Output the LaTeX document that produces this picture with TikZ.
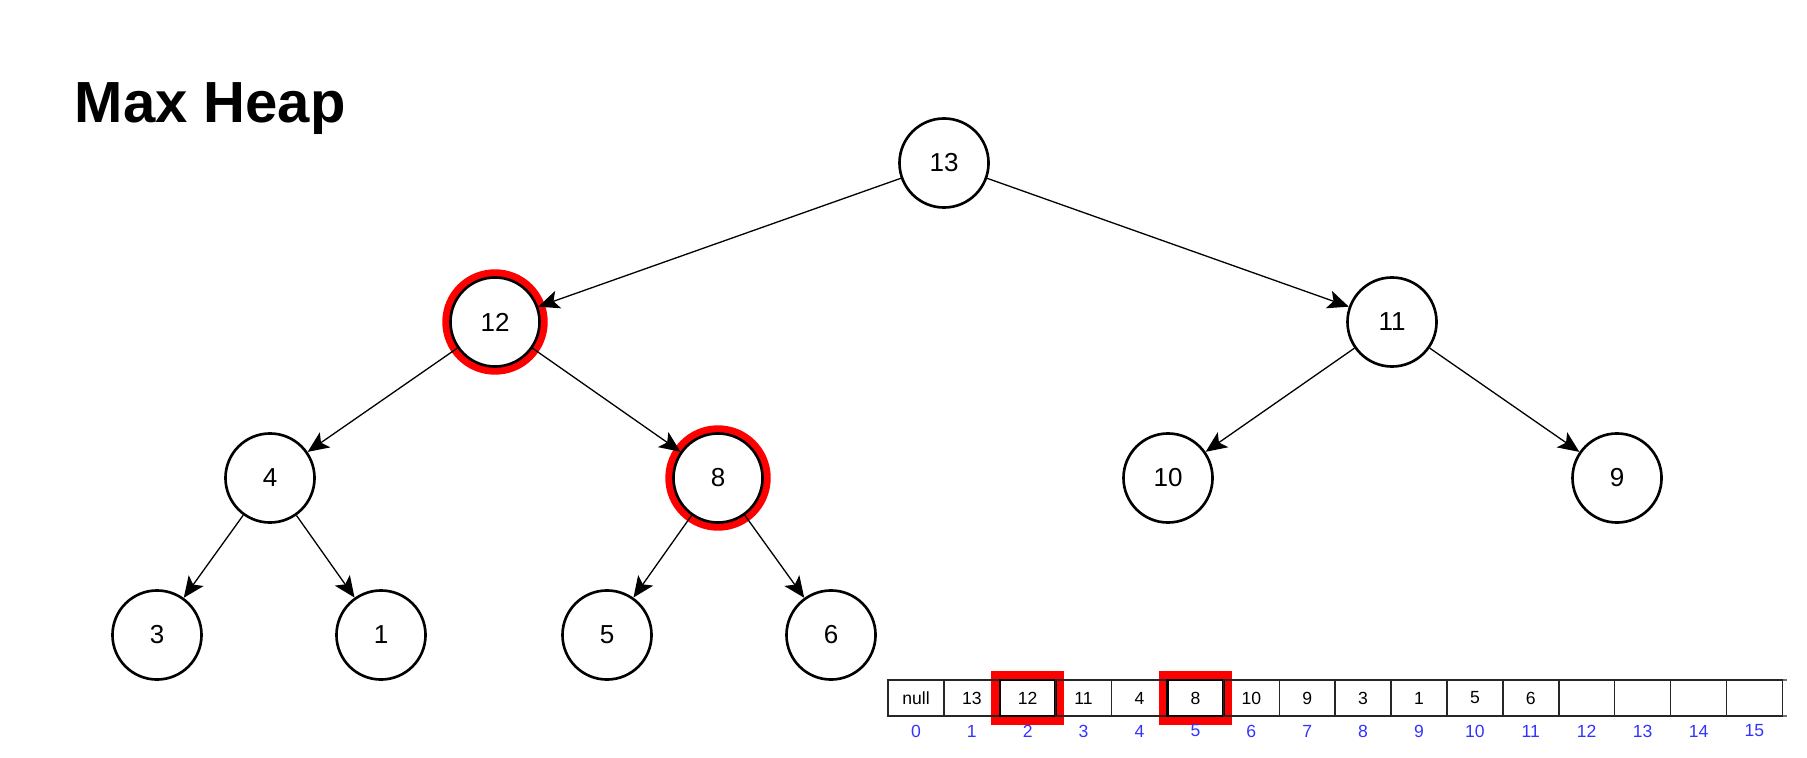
\documentclass[tikz,border=0pt]{standalone}
\usepackage{fontspec}
\setmainfont{Liberation Sans}
\usetikzlibrary{arrows.meta}
\definecolor{idxblue}{RGB}{51,51,255}

\begin{document}
\begin{tikzpicture}[x=0.01cm, y=-0.01cm,
    heading/.style={inner sep=0pt, anchor=base west, font=\bfseries\fontsize{16.5}{18}\selectfont},
    vertex/.style={circle, draw, line width=0.75pt, minimum size=0.89cm, inner sep=0pt, font=\fontsize{7.4}{8}\selectfont},
    ring/.style={circle, draw=red, line width=2.1pt, minimum size=0.98cm, inner sep=0pt},
    link/.style={line width=0.37pt, -{Stealth[length=6pt, width=5.2pt, inset=1.4pt]}},
    cell/.style={rectangle, draw=black!85, line width=0.4pt, minimum width=0.559cm, minimum height=0.36cm, inner sep=0pt, font=\fontsize{5}{6}\selectfont},
    hotcell/.style={cell, draw=black, line width=0.7pt},
    hotframe/.style={rectangle, draw=red, line width=2.3pt, minimum width=0.65cm, minimum height=0.455cm, inner sep=0pt},
    idx/.style={inner sep=0pt, text=idxblue, font=\fontsize{5}{6}\selectfont},
    rail/.style={draw=black!55, line width=0.6pt}]
    \useasboundingbox (0,0) rectangle (1807,758);

    \node[heading] (title) at (74,123) {Max Heap};

    % tree
    \node[ring] (r12) at (495,322) {};
    \node[ring] (r8) at (718,478) {};
    \node[vertex] (n13) at (944,163) {13};
    \node[vertex] (n12) at (495,322) {12};
    \node[vertex] (n11) at (1392,322) {11};
    \node[vertex] (n4) at (270,478) {4};
    \node[vertex] (n8) at (718,478) {8};
    \node[vertex] (n10) at (1168,478) {10};
    \node[vertex] (n9) at (1617,478) {9};
    \node[vertex] (n3) at (157,635) {3};
    \node[vertex] (n1) at (381,635) {1};
    \node[vertex] (n5) at (607,635) {5};
    \node[vertex] (n6) at (831,635) {6};
    \draw[link] (n13) -- (n12);
    \draw[link] (n13) -- (n11);
    \draw[link] (n12) -- (n4);
    \draw[link] (n12) -- (n8);
    \draw[link] (n11) -- (n10);
    \draw[link] (n11) -- (n9);
    \draw[link] (n4) -- (n3);
    \draw[link] (n4) -- (n1);
    \draw[link] (n8) -- (n5);
    \draw[link] (n8) -- (n6);

    % array
    \coordinate (topL) at (888,680);
    \coordinate (topR) at (1787,680);
    \coordinate (botL) at (888,716);
    \coordinate (botR) at (1787,716);
    \draw[rail] (topL) -- (topR);
    \draw[rail] (botL) -- (botR);
    \node[hotframe] (f2) at (1027.7,698) {};
    \node[hotframe] (f5) at (1195.4,698) {};
    \node[cell] (c0) at (916,698) {null};
    \node[cell] (c1) at (971.8,698) {13};
    \node[hotcell] (c2) at (1027.7,698) {12};
    \node[cell] (c3) at (1083.6,698) {11};
    \node[cell] (c4) at (1139.5,698) {4};
    \node[hotcell] (c5) at (1195.4,698) {8};
    \node[cell] (c6) at (1251.3,698) {10};
    \node[cell] (c7) at (1307.2,698) {9};
    \node[cell] (c8) at (1363.1,698) {3};
    \node[cell] (c9) at (1419,698) {1};
    \node[cell] (c10) at (1474.9,698) {5};
    \node[cell] (c11) at (1530.8,698) {6};
    \node[cell] (c12) at (1586.7,698) {};
    \node[cell] (c13) at (1642.6,698) {};
    \node[cell] (c14) at (1698.5,698) {};
    \node[cell] (c15) at (1754.4,698) {};
    \node[idx] (i0) at (916,731) {0};
    \node[idx] (i1) at (971.8,731) {1};
    \node[idx] (i2) at (1027.7,731) {2};
    \node[idx] (i3) at (1083.6,731) {3};
    \node[idx] (i4) at (1139.5,731) {4};
    \node[idx] (i5) at (1195.4,731) {5};
    \node[idx] (i6) at (1251.3,731) {6};
    \node[idx] (i7) at (1307.2,731) {7};
    \node[idx] (i8) at (1363.1,731) {8};
    \node[idx] (i9) at (1419,731) {9};
    \node[idx] (i10) at (1474.9,731) {10};
    \node[idx] (i11) at (1530.8,731) {11};
    \node[idx] (i12) at (1586.7,731) {12};
    \node[idx] (i13) at (1642.6,731) {13};
    \node[idx] (i14) at (1698.5,731) {14};
    \node[idx] (i15) at (1754.4,731) {15};
\end{tikzpicture}
\end{document}
